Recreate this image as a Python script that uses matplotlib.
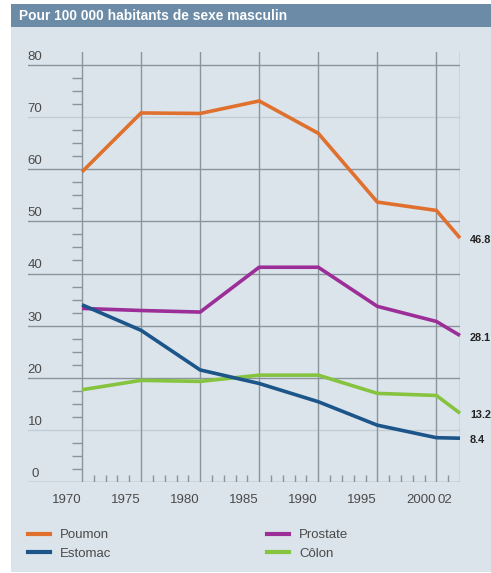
import matplotlib
matplotlib.use('Agg')
import matplotlib.pyplot as plt
from matplotlib.patches import Rectangle
from matplotlib.lines import Line2D

# ---- data ----
years = [1971, 1976, 1981, 1986, 1991, 1996, 2001, 2003]
poumon = [59.5, 70.8, 70.7, 73.1, 66.9, 53.7, 52.1, 46.8]
prostate = [33.3, 32.9, 32.6, 41.2, 41.2, 33.7, 30.8, 28.1]
colon = [17.7, 19.5, 19.3, 20.5, 20.5, 17.0, 16.6, 13.2]
estomac = [34.0, 29.1, 21.5, 18.9, 15.4, 10.9, 8.5, 8.4]
end_labels = {'Poumon': '46.8', 'Prostate': '28.1', 'Côlon': '13.2', 'Estomac': '8.4'}
ytick_values = [0, 10, 20, 30, 40, 50, 60, 70, 80]
xtick_years = [1970, 1975, 1980, 1985, 1990, 1995, 2000, 2002]
xtick_labels = ['1970', '1975', '1980', '1985', '1990', '1995', '2000', '02']
title = 'Pour 100 000 habitants de sexe masculin'

colors = {'Poumon': '#E0702E', 'Estomac': '#1B5589',
          'Prostate': '#9C2E98', 'Côlon': '#86C440'}
series = {'Poumon': poumon, 'Prostate': prostate, 'Côlon': colon, 'Estomac': estomac}

plt.rcParams['font.family'] = ['Liberation Sans', 'DejaVu Sans']

W, H = 491, 573
fig = plt.figure(figsize=(W / 100, H / 100), dpi=100)
fig.patch.set_facecolor('white')

bg = '#DCE4EB'
bar = '#6B8BA7'
fig.add_artist(Rectangle((11 / W, 1 / H), 1 - 11 / W, (572 - 4) / H,
                         transform=fig.transFigure, facecolor=bg, edgecolor='none', zorder=0))
fig.add_artist(Rectangle((11 / W, (H - 27) / H), 1 - 11 / W, 23 / H,
                         transform=fig.transFigure, facecolor=bar, edgecolor='none', zorder=0))
fig.text(19 / W, (H - 15.5) / H, title, color='white', fontsize=9.9, fontweight='bold',
         va='center', ha='left')

ax = fig.add_axes([28 / W, (H - 482) / H, 432 / W, 430 / H])
ax.set_axis_off()
pxx = (460 - 82) / 32.0
pxy = (482 - 65) / 80.0
ax.set_xlim(1971 - 54 / pxx, 2003)
ax.set_ylim(0, 80 + 13 / pxy)

gc = '#8A949C'
for v in ytick_values:
    c = '#C2CCD4' if v in (10, 70) else gc
    ax.axhline(v, color=c, lw=1.0, zorder=1)
for yr in years:
    ax.axvline(yr, color=gc, lw=1.0, zorder=1)

# minor ticks
ymin = [v * 2.5 for v in range(1, 32) if v % 4 != 0]
ax.hlines(ymin, years[0] - 10 / pxx, years[0], color=gc, lw=1.0, zorder=1)
xmin = [y for y in range(years[0] + 1, years[-1]) if y not in years]
ax.vlines(xmin, 0, 7 / pxy, color=gc, lw=1.0, zorder=1)

for name in ['Poumon', 'Prostate', 'Côlon', 'Estomac']:
    ax.plot(years, series[name], color=colors[name], lw=2.6, zorder=3,
            clip_on=False, solid_joinstyle='miter', solid_capstyle='butt')
    ax.annotate(end_labels[name], xy=(years[-1], series[name][-1]), xytext=(10, -2),
                textcoords='offset pixels', ha='left', va='center', fontsize=7.8,
                fontweight='bold', color='#222222', annotation_clip=False)

tc = '#4A4A4A'
for v in ytick_values:
    ax.annotate(str(v), xy=(1971 - 47 / pxx, v), xytext=(0, 8), textcoords='offset pixels',
                ha='center', va='center', fontsize=9.5, color=tc, annotation_clip=False)
for yr, lab in zip(xtick_years, xtick_labels):
    ax.annotate(lab, xy=(yr - 0.3, 0), xytext=(0, -18), textcoords='offset pixels',
                ha='center', va='center', fontsize=9.5, color=tc, annotation_clip=False)

def mk(names, x):
    hs = [Line2D([], [], color=colors[n], lw=3) for n in names]
    fig.legend(hs, names, loc='upper left', bbox_to_anchor=(x / W, (H - 529) / H),
               frameon=False, handlelength=1.67, handletextpad=0.75, labelspacing=0.5,
               fontsize=9.5, borderpad=0, borderaxespad=0, labelcolor=tc)

mk(['Poumon', 'Estomac'], 28)
mk(['Prostate', 'Côlon'], 267)

fig.savefig('out.png', dpi=100, facecolor='white')
